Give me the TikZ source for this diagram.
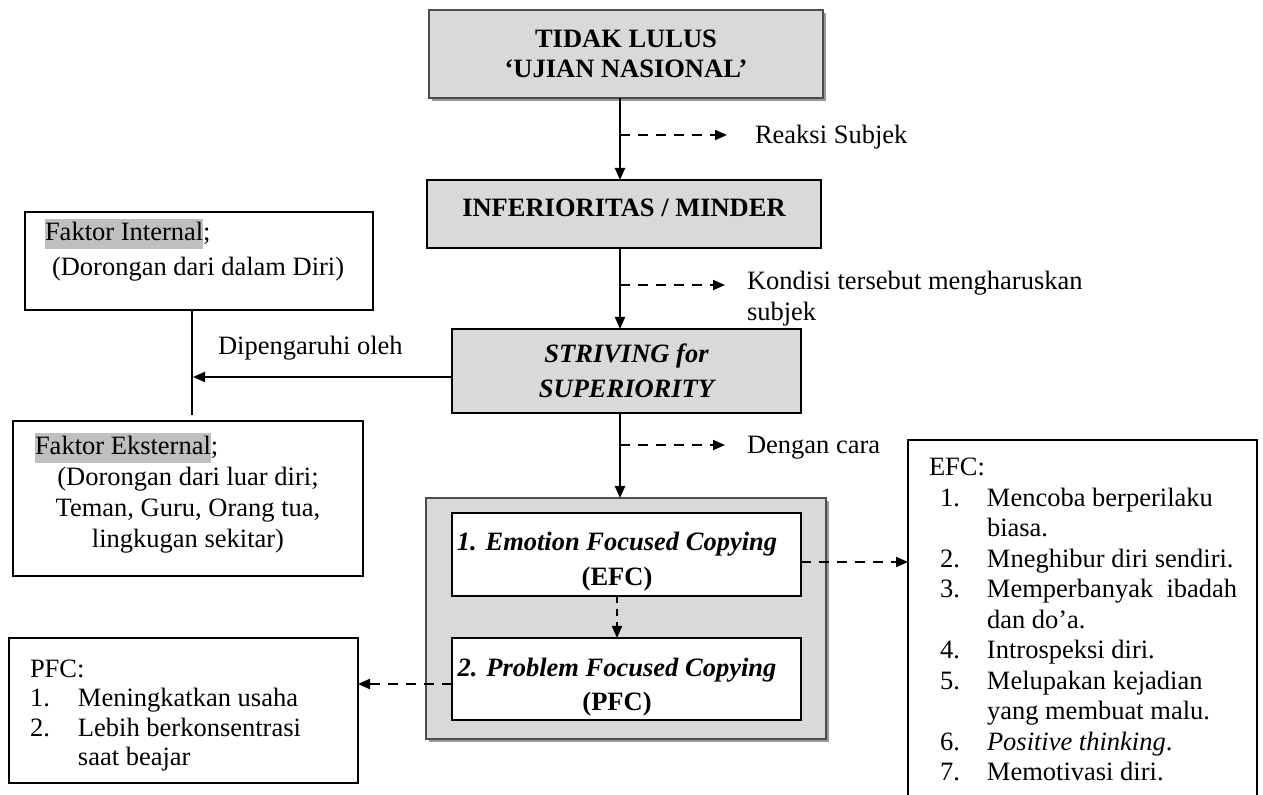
\documentclass[tikz,border=0pt]{standalone}
\usepackage{fontspec}
\setmainfont{Liberation Serif}
\usetikzlibrary{arrows.meta,shadows}
\definecolor{boxgray}{HTML}{D9D9D9}
\definecolor{hlgray}{HTML}{BFBFBF}
\definecolor{shadowgray}{HTML}{9A9A9A}
\definecolor{edgegray}{HTML}{4D4D4D}
\newcommand{\hlbox}[1]{{\setlength{\fboxsep}{0pt}\colorbox{hlgray}{\vrule height 11pt depth 4pt width 0pt #1}}}
\begin{document}
\begin{tikzpicture}[x=0.5pt,y=-0.5pt,
  every node/.style={inner sep=0pt, outer sep=0pt, font=\fontsize{13.25}{15.25}\selectfont},
  bf/.style={font=\fontsize{13.25}{15.25}\selectfont\bfseries},
  bfi/.style={font=\fontsize{13.25}{15.25}\selectfont\bfseries\itshape},
  graybox/.style={draw=black, fill=boxgray, line width=0.8pt},
  framebox/.style={draw=black, fill=white, line width=0.8pt},
  shadowbox/.style={draw=edgegray, fill=boxgray, line width=1pt,
    drop shadow={shadow xshift=1.5pt, shadow yshift=-1.5pt, fill=shadowgray, opacity=1}},
  flow/.style={line width=1pt, -{Triangle[length=6pt,width=5pt]}},
  dflow/.style={line width=1pt, dash pattern=on 5pt off 4pt, -{Triangle[length=6pt,width=5pt]}},
  plain/.style={line width=0.8pt},
  txt/.style={anchor=base west},
  ctxt/.style={anchor=base},
]
\useasboundingbox (0,0) rectangle (1263,795);

% ---------- main column ----------
\node[shadowbox, minimum width=197pt, minimum height=44pt, align=center,
      font=\fontsize{13.25}{15}\selectfont\bfseries] (top) at (626,54)
      {TIDAK LULUS\\‘UJIAN NASIONAL’};

\node[graybox, bf, minimum width=197pt, minimum height=34pt, text height=9pt, text depth=6pt]
      (inf) at (624,214) {INFERIORITAS / MINDER};

\node[graybox, minimum width=174.5pt, minimum height=42pt, align=center,
      font=\fontsize{13.25}{17.5}\selectfont\bfseries\itshape] (striving) at (626.5,371)
      {STRIVING for\\SUPERIORITY};

\node[shadowbox, minimum width=200pt, minimum height=120.5pt] (coping) at (626,618.5) {};
\node[framebox, minimum width=174.5pt, minimum height=41.5pt] (efc) at (626.5,554.5) {};
\node[framebox, minimum width=174.5pt, minimum height=41pt] (pfc) at (626.5,679) {};
\node[ctxt, bfi] (efct1) at (617,551) {1. Emotion Focused Copying};
\node[ctxt, bf] (efct2) at (617,586) {(EFC)};
\node[ctxt, bfi] (pfct1) at (617,676) {2. Problem Focused Copying};
\node[ctxt, bf] (pfct2) at (617,711) {(PFC)};

\coordinate (trunk) at (620,0);
\draw[flow] (top.south -| trunk) -- (inf.north -| trunk);
\draw[flow] (inf.south -| trunk) -- (striving.north -| trunk);
\draw[flow] (striving.south -| trunk) -- (coping.north -| trunk);

% ---------- side remarks ----------
\coordinate (b1) at (620,135); \coordinate (b1e) at (727,135);
\draw[dflow] (b1) -- (b1e);
\node[txt] (reaksi) at (755,144) {Reaksi Subjek};

\coordinate (b2) at (620,285); \coordinate (b2e) at (725,285);
\draw[dflow] (b2) -- (b2e);
\node[txt] (kondisi) at (747,290) {Kondisi tersebut mengharuskan};
\node[txt] (subjek) at (747,321) {subjek};

\coordinate (b3) at (620,445); \coordinate (b3e) at (725,445);
\draw[dflow] (b3) -- (b3e);
\node[txt] (cara) at (747,454) {Dengan cara};

% ---------- factors ----------
\node[framebox, minimum width=174pt, minimum height=49pt] (internal) at (199,261) {};
\node[txt] (intl1) at (45,241) {\hlbox{Faktor Internal};};
\node[txt] (intl2) at (52,276) {(Dorongan dari dalam Diri)};

\node[framebox, minimum width=175pt, minimum height=77.5pt] (eksternal) at (188,498.5) {};
\node[txt] (ekst1) at (35,455) {\hlbox{Faktor Eksternal};};
\node[ctxt, font=\fontsize{13.25}{15.5}\selectfont] (ekst2) at (188,486)
  {\begin{tabular}[t]{@{}c@{}}(Dorongan dari luar diri;\\Teman, Guru, Orang tua,\\lingkugan sekitar)\end{tabular}};

\coordinate (vx) at (192,0);
\coordinate (join) at (193,377);
\draw[plain] (internal.south -| vx) -- ([yshift=3pt]eksternal.north -| vx);
\draw[flow] ([yshift=-3pt]striving.west) -- (join);
\node[txt] (dipengaruhi) at (218,355) {Dipengaruhi oleh};

% ---------- coping details ----------
\coordinate (inner) at (617,0);
\draw[dflow, dash pattern=on 3.5pt off 3pt] (efc.south -| inner) -- (pfc.north -| inner);

\node[minimum width=174.5pt, minimum height=177.5pt] (efcbox) at (1082.5,617.5) {};
\draw[plain] (efcbox.south west) -- (efcbox.north west) -- (efcbox.north east) -- (efcbox.south east);
\node[anchor=base west, font=\fontsize{13.25}{15.25}\selectfont] (efclist) at (929,476)
  {\begin{tabular}[t]{@{\hspace{5.5pt}}p{23.5pt}@{}l@{}}
   \multicolumn{2}{@{}l@{}}{EFC:}\\
   1. & Mencoba berperilaku\\
      & biasa.\\
   2. & Mneghibur diri sendiri.\\
   3. & Memperbanyak~ ibadah\\
      & dan do’a.\\
   4. & Introspeksi diri.\\
   5. & Melupakan kejadian\\
      & yang membuat malu.\\
   6. & \textit{Positive thinking}.\\
   7. & Memotivasi diri.
   \end{tabular}};

\node[framebox, minimum width=174.5pt, minimum height=72.5pt] (pfcbox) at (183.5,710.5) {};
\node[anchor=base west, font=\fontsize{13.25}{14.75}\selectfont] (pfclist) at (30,677)
  {\begin{tabular}[t]{@{}p{24pt}@{}l@{}}
   \multicolumn{2}{@{}l@{}}{PFC:}\\
   1. & Meningkatkan usaha\\
   2. & Lebih berkonsentrasi\\
      & saat beajar
   \end{tabular}};

\path ([yshift=-3.75pt]efc.east) coordinate (e1);
\draw[dflow] (e1) -- (efcbox.west |- e1);
\path ([yshift=-2.5pt]pfc.west) coordinate (p1);
\draw[dflow] (p1) -- (pfcbox.east |- p1);
\end{tikzpicture}
\end{document}
